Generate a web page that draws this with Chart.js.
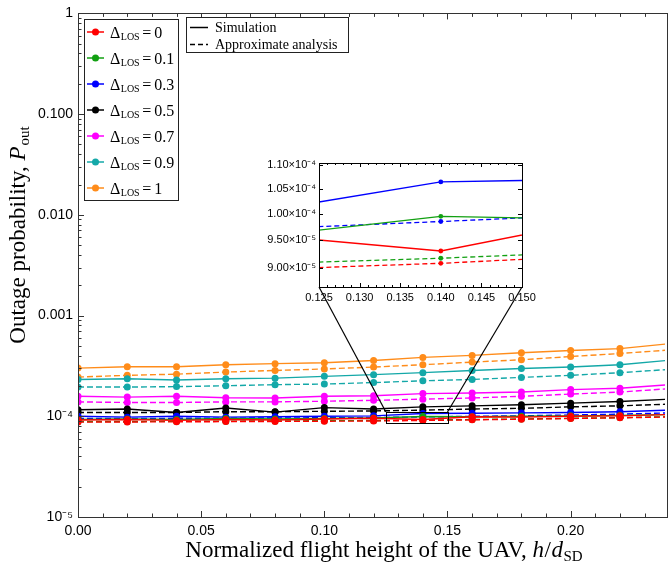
<!DOCTYPE html>
<html>
<head>
<meta charset="utf-8">
<script src="https://cdn.jsdelivr.net/npm/chart.js@4.4.1/dist/chart.umd.min.js"></script>
<style>
  body { margin: 0; background: #fff; }
  #wrap { position: relative; width: 669px; height: 568px; }
  #main { position: absolute; left: 0; top: 0; }
  #inset { position: absolute; left: 240px; top: 150px; }
</style>
</head>
<body>
<div id="wrap">
  <canvas id="main" width="669" height="568"></canvas>
  <canvas id="inset" width="300" height="165"></canvas>
</div>
<script>
// ---------------- data ----------------
const heights = [0, 0.02, 0.04, 0.06, 0.08, 0.10, 0.12, 0.14, 0.16, 0.18, 0.20, 0.22, 0.24];

const deltaLabels = ['0', '0.1', '0.3', '0.5', '0.7', '0.9', '1'];
const colors = ['#ff0000', '#12a012', '#0000ff', '#000000', '#ff00ff', '#14a8a8', '#ff8c1a'];

// simulation (solid)
const simD0  = [9.2e-5, 9.3e-5, 9.1e-5, 9.3e-5, 9.2e-5, 9.4e-5, 9.57e-5, 9.3e-5, 9.9e-5, 9.8e-5, 1.0e-4, 1.01e-4, 1.04e-4];
const simD01 = [9.3e-5, 9.4e-5, 9.3e-5, 9.5e-5, 9.4e-5, 9.5e-5, 9.6e-5, 9.95e-5, 9.89e-5, 1.0e-4, 1.01e-4, 1.02e-4, 1.04e-4];
const simD03 = [1.0e-4, 9.8e-5, 1.0e-4, 9.8e-5, 9.9e-5, 1.0e-4, 1.01e-4, 1.064e-4, 1.07e-4, 1.08e-4, 1.09e-4, 1.11e-4, 1.15e-4];
const simD05 = [1.16e-4, 1.18e-4, 1.09e-4, 1.21e-4, 1.10e-4, 1.22e-4, 1.18e-4, 1.24e-4, 1.27e-4, 1.30e-4, 1.35e-4, 1.40e-4, 1.48e-4];
const simD07 = [1.58e-4, 1.55e-4, 1.58e-4, 1.53e-4, 1.52e-4, 1.58e-4, 1.60e-4, 1.68e-4, 1.70e-4, 1.74e-4, 1.84e-4, 1.90e-4, 2.06e-4];
const simD09 = [2.32e-4, 2.36e-4, 2.29e-4, 2.36e-4, 2.39e-4, 2.49e-4, 2.59e-4, 2.71e-4, 2.85e-4, 2.98e-4, 3.08e-4, 3.25e-4, 3.60e-4];
const simD1  = [3.01e-4, 3.10e-4, 3.10e-4, 3.25e-4, 3.33e-4, 3.40e-4, 3.58e-4, 3.84e-4, 4.02e-4, 4.27e-4, 4.50e-4, 4.70e-4, 5.25e-4];

// approximate analysis (dashed)
const apxD0  = [8.75e-5, 8.78e-5, 8.81e-5, 8.85e-5, 8.89e-5, 8.93e-5, 8.98e-5, 9.08e-5, 9.22e-5, 9.35e-5, 9.5e-5, 9.65e-5, 9.85e-5];
const apxD01 = [8.85e-5, 8.88e-5, 8.91e-5, 8.95e-5, 8.99e-5, 9.03e-5, 9.08e-5, 9.17e-5, 9.29e-5, 9.4e-5, 9.55e-5, 9.7e-5, 9.9e-5];
const apxD03 = [9.5e-5, 9.5e-5, 9.55e-5, 9.58e-5, 9.62e-5, 9.67e-5, 9.72e-5, 9.85e-5, 9.99e-5, 1.01e-4, 1.03e-4, 1.05e-4, 1.08e-4];
const apxD05 = [1.09e-4, 1.09e-4, 1.09e-4, 1.11e-4, 1.11e-4, 1.12e-4, 1.13e-4, 1.15e-4, 1.18e-4, 1.20e-4, 1.24e-4, 1.27e-4, 1.32e-4];
const apxD07 = [1.39e-4, 1.37e-4, 1.37e-4, 1.39e-4, 1.39e-4, 1.41e-4, 1.44e-4, 1.48e-4, 1.52e-4, 1.58e-4, 1.66e-4, 1.74e-4, 1.88e-4];
const apxD09 = [1.95e-4, 1.95e-4, 1.97e-4, 2.01e-4, 2.06e-4, 2.09e-4, 2.16e-4, 2.25e-4, 2.32e-4, 2.43e-4, 2.55e-4, 2.71e-4, 2.92e-4];
const apxD1  = [2.45e-4, 2.55e-4, 2.62e-4, 2.75e-4, 2.85e-4, 2.95e-4, 3.08e-4, 3.25e-4, 3.45e-4, 3.64e-4, 3.92e-4, 4.20e-4, 4.55e-4];

const simSeries = [simD0, simD01, simD03, simD05, simD07, simD09, simD1];
const apxSeries = [apxD0, apxD01, apxD03, apxD05, apxD07, apxD09, apxD1];

// ticks
const xTickValues = [0, 0.05, 0.10, 0.15, 0.20];
const xTickLabels = ['0.00', '0.05', '0.10', '0.15', '0.20'];
const yTickValues = [1e-5, 1e-4, 1e-3, 1e-2, 1e-1, 1];
const yTickLabels = ['10\u207B\u2075', '10\u207B\u2074', '0.001', '0.010', '0.100', '1'];

// inset (zoomed region)
const zoomX = [0.125, 0.150];
const zoomY = [8.67e-5, 1.104e-4];
const insetXValues = [0.125, 0.130, 0.135, 0.140, 0.145, 0.150];
const insetXLabels = ['0.125', '0.130', '0.135', '0.140', '0.145', '0.150'];
const insetYValues = [9.0e-5, 9.5e-5, 1.0e-4, 1.05e-4, 1.10e-4];
const insetYLabels = ['9.00\u00D710\u207B\u2075', '9.50\u00D710\u207B\u2075', '1.00\u00D710\u207B\u2074', '1.05\u00D710\u207B\u2074', '1.10\u00D710\u207B\u2074'];

const X_MAX = 0.2383;
const INSET_LEFT = 240, INSET_TOP = 150;

const SANS = '"Liberation Sans", Arial, Helvetica, sans-serif';
const SERIF = '"Liberation Serif", "Times New Roman", serif';

// ---------------- helpers ----------------
function findLabel(values, labels, v) {
  const i = values.findIndex(t => Math.abs(t - v) <= Math.abs(t) * 1e-6 + 1e-12);
  return i >= 0 ? labels[i] : '';
}

function makeDatasets(radius, width, dash) {
  const sets = [];
  simSeries.forEach((vals, i) => {
    sets.push({
      label: 'sim ' + deltaLabels[i],
      data: heights.map((h, j) => ({ x: h, y: vals[j] })),
      borderColor: colors[i], backgroundColor: colors[i],
      borderWidth: width, pointRadius: radius, pointBorderWidth: 0, tension: 0
    });
    sets.push({
      label: 'apx ' + deltaLabels[i],
      data: heights.map((h, j) => ({ x: h, y: apxSeries[i][j] })),
      borderColor: colors[i], backgroundColor: colors[i],
      borderWidth: width, borderDash: dash, pointRadius: radius, pointBorderWidth: 0, tension: 0
    });
  });
  return sets;
}

function line(ctx, x1, y1, x2, y2) {
  ctx.beginPath(); ctx.moveTo(x1, y1); ctx.lineTo(x2, y2); ctx.stroke();
}

// draw text made of parts (font, dy) starting at x
function drawParts(ctx, parts, x, y, align) {
  let total = 0;
  parts.forEach(p => { ctx.font = p.font; total += ctx.measureText(p.t).width + (p.gap || 0); });
  let cx = align === 'center' ? x - total / 2 : x;
  parts.forEach(p => {
    ctx.font = p.font;
    ctx.fillText(p.t, cx, y + (p.dy || 0));
    cx += ctx.measureText(p.t).width + (p.gap || 0);
  });
}

// ---------------- inset chart ----------------
const insetPlugin = {
  id: 'insetFrame',
  beforeDatasetsDraw(chart) {
    const { ctx, chartArea: a } = chart;
    ctx.save();
    ctx.fillStyle = '#fff';
    ctx.fillRect(a.left, a.top, a.right - a.left, a.bottom - a.top);
    ctx.restore();
  },
  afterDatasetsDraw(chart) {
    const { ctx, chartArea: a, scales: { x, y } } = chart;
    ctx.save();
    ctx.strokeStyle = '#000';
    ctx.lineWidth = 1;
    ctx.strokeRect(Math.round(a.left) + 0.5, Math.round(a.top) + 0.5, Math.round(a.right - a.left), Math.round(a.bottom - a.top));
    for (let k = 125; k <= 150; k++) {
      const px = Math.round(x.getPixelForValue(k / 1000)) + 0.5;
      const len = k % 5 === 0 ? 4 : 2;
      line(ctx, px, a.bottom, px, a.bottom - len);
      line(ctx, px, a.top, px, a.top + len);
    }
    insetYValues.forEach(v => {
      const py = Math.round(y.getPixelForValue(v)) + 0.5;
      line(ctx, a.left, py, a.left + 4, py);
      line(ctx, a.right, py, a.right - 4, py);
    });
    ctx.restore();
  }
};

const insetChart = new Chart(document.getElementById('inset'), {
  type: 'line',
  data: { datasets: makeDatasets(2.4, 1.3, [5, 3]) },
  options: {
    responsive: false,
    animation: false,
    events: [],
    layout: { padding: { top: 13, right: 18, left: 0, bottom: 0 } },
    plugins: { legend: { display: false }, tooltip: { enabled: false } },
    scales: {
      x: {
        type: 'linear', min: zoomX[0], max: zoomX[1],
        grid: { display: false, drawTicks: false }, border: { display: false },
        afterBuildTicks: s => { s.ticks = insetXValues.map(v => ({ value: v })); },
        afterFit: s => { s.height = 28; },
        ticks: {
          autoSkip: false, maxRotation: 0, padding: 4, color: '#000',
          font: { family: SANS, size: 11 },
          callback: v => findLabel(insetXValues, insetXLabels, v)
        }
      },
      y: {
        type: 'logarithmic', min: zoomY[0], max: zoomY[1],
        grid: { display: false, drawTicks: false }, border: { display: false },
        afterBuildTicks: s => { s.ticks = insetYValues.map(v => ({ value: v })); },
        afterFit: s => { s.width = 79; },
        ticks: {
          autoSkip: false, padding: 3, color: '#000',
          font: { family: SANS, size: 11 },
          callback: v => findLabel(insetYValues, insetYLabels, v)
        }
      }
    }
  },
  plugins: [insetPlugin]
});

// ---------------- main chart ----------------
const mainPlugin = {
  id: 'mainDecor',
  beforeDraw(chart) {
    const { ctx } = chart;
    ctx.save();
    ctx.fillStyle = '#fff';
    ctx.fillRect(0, 0, chart.width, chart.height);
    ctx.restore();
  },
  afterDatasetsDraw(chart) {
    const { ctx, chartArea: a, scales: { x, y } } = chart;
    ctx.save();
    ctx.strokeStyle = '#333';
    ctx.lineWidth = 1;
    ctx.strokeRect(Math.round(a.left) + 0.5, Math.round(a.top) + 0.5, Math.round(a.right - a.left) + 2, Math.round(a.bottom - a.top));

    // x ticks (major every 0.05, minor every 0.01)
    for (let k = 0; k <= 23; k++) {
      const px = Math.round(x.getPixelForValue(k / 100)) + 0.5;
      const len = k % 5 === 0 ? 6 : 3.5;
      line(ctx, px, a.bottom, px, a.bottom - len);
      line(ctx, px, a.top, px, a.top + len);
    }
    // y ticks (log decades + minor)
    for (let e = -5; e <= 0; e++) {
      for (let m = 1; m <= 9; m++) {
        const v = m * Math.pow(10, e);
        if (v > 1.0000001) break;
        const py = Math.round(y.getPixelForValue(v)) + 0.5;
        const len = m === 1 ? 6 : 3.5;
        line(ctx, a.left, py, a.left + len, py);
      }
    }

    // zoom box and connectors to inset
    const bx1 = x.getPixelForValue(zoomX[0]), bx2 = x.getPixelForValue(zoomX[1]);
    const by1 = y.getPixelForValue(zoomY[1]), by2 = y.getPixelForValue(zoomY[0]);
    ctx.strokeStyle = '#000';
    ctx.lineWidth = 1;
    ctx.strokeRect(Math.round(bx1) + 0.5, Math.round(by1) + 0.5, Math.round(bx2 - bx1), Math.round(by2 - by1));
    const ia = insetChart.chartArea;
    ctx.lineWidth = 1.2;
    line(ctx, INSET_LEFT + ia.left, INSET_TOP + ia.bottom, bx1, by1);
    line(ctx, INSET_LEFT + ia.right, INSET_TOP + ia.bottom, bx2, by1);
    ctx.restore();
  },
  afterDraw(chart) {
    const { ctx } = chart;
    ctx.save();
    ctx.textBaseline = 'alphabetic';

    // legend 1: delta values
    ctx.fillStyle = '#fff';
    ctx.fillRect(84, 19, 94, 181);
    ctx.strokeStyle = '#222';
    ctx.lineWidth = 1;
    ctx.strokeRect(84.5, 19.5, 94, 181);
    deltaLabels.forEach((lab, i) => {
      const yy = 32 + i * 26;
      ctx.strokeStyle = colors[i];
      ctx.lineWidth = 1.5;
      line(ctx, 87, yy, 104, yy);
      ctx.fillStyle = colors[i];
      ctx.beginPath(); ctx.arc(95.5, yy, 3.5, 0, Math.PI * 2); ctx.fill();
      ctx.fillStyle = '#000';
      drawParts(ctx, [
        { t: '\u0394', font: '16px ' + SERIF, gap: 0.5 },
        { t: 'LOS', font: '10px ' + SERIF, dy: 2.5, gap: 2.5 },
        { t: '=', font: '16px ' + SERIF, gap: 3 },
        { t: lab, font: '16px ' + SERIF }
      ], 110, yy + 5.5, 'left');
    });

    // legend 2: line styles
    ctx.fillStyle = '#fff';
    ctx.fillRect(186, 17, 162, 35);
    ctx.strokeStyle = '#222';
    ctx.lineWidth = 1;
    ctx.strokeRect(186.5, 17.5, 162, 35);
    ctx.strokeStyle = '#000';
    ctx.lineWidth = 1.5;
    line(ctx, 190, 27.5, 208, 27.5);
    ctx.setLineDash([5, 3]);
    line(ctx, 190, 44.5, 208, 44.5);
    ctx.setLineDash([]);
    ctx.fillStyle = '#000';
    ctx.font = '14px ' + SERIF;
    ctx.fillText('Simulation', 215, 32);
    ctx.fillText('Approximate analysis', 215, 49);

    // axis titles
    drawParts(ctx, [
      { t: 'Normalized flight height of the UAV, ', font: '23px ' + SERIF },
      { t: 'h', font: 'italic 23px ' + SERIF, gap: 0.5 },
      { t: '/', font: '23px ' + SERIF, gap: 0.5 },
      { t: 'd', font: 'italic 23px ' + SERIF, gap: 0.5 },
      { t: 'SD', font: '15px ' + SERIF, dy: 4 }
    ], 384, 557, 'center');

    ctx.translate(25, 235);
    ctx.rotate(-Math.PI / 2);
    drawParts(ctx, [
      { t: 'Outage probability, ', font: '23px ' + SERIF },
      { t: 'P', font: 'italic 23px ' + SERIF, gap: 1 },
      { t: 'out', font: '15px ' + SERIF, dy: 4 }
    ], 0, 0, 'center');
    ctx.restore();
  }
};

const mainChart = new Chart(document.getElementById('main'), {
  type: 'line',
  data: { datasets: makeDatasets(3.5, 1.4, [6, 3]) },
  options: {
    responsive: false,
    animation: false,
    events: [],
    layout: { padding: { top: 12, right: 0, left: 0, bottom: 0 } },
    plugins: { legend: { display: false }, tooltip: { enabled: false } },
    scales: {
      x: {
        type: 'linear', min: 0, max: X_MAX,
        grid: { display: false, drawTicks: false }, border: { display: false },
        afterBuildTicks: s => { s.ticks = xTickValues.map(v => ({ value: v })); },
        afterFit: s => { s.height = 51; },
        ticks: {
          autoSkip: false, maxRotation: 0, padding: 6, color: '#000',
          font: { family: SANS, size: 14 },
          callback: v => findLabel(xTickValues, xTickLabels, v)
        }
      },
      y: {
        type: 'logarithmic', min: 1e-5, max: 1,
        grid: { display: false, drawTicks: false }, border: { display: false },
        afterBuildTicks: s => { s.ticks = yTickValues.map(v => ({ value: v })); },
        afterFit: s => { s.width = 78; },
        ticks: {
          autoSkip: false, padding: 5, color: '#000',
          font: { family: SANS, size: 14 },
          callback: v => findLabel(yTickValues, yTickLabels, v)
        }
      }
    }
  },
  plugins: [mainPlugin]
});
</script>
</body>
</html>
